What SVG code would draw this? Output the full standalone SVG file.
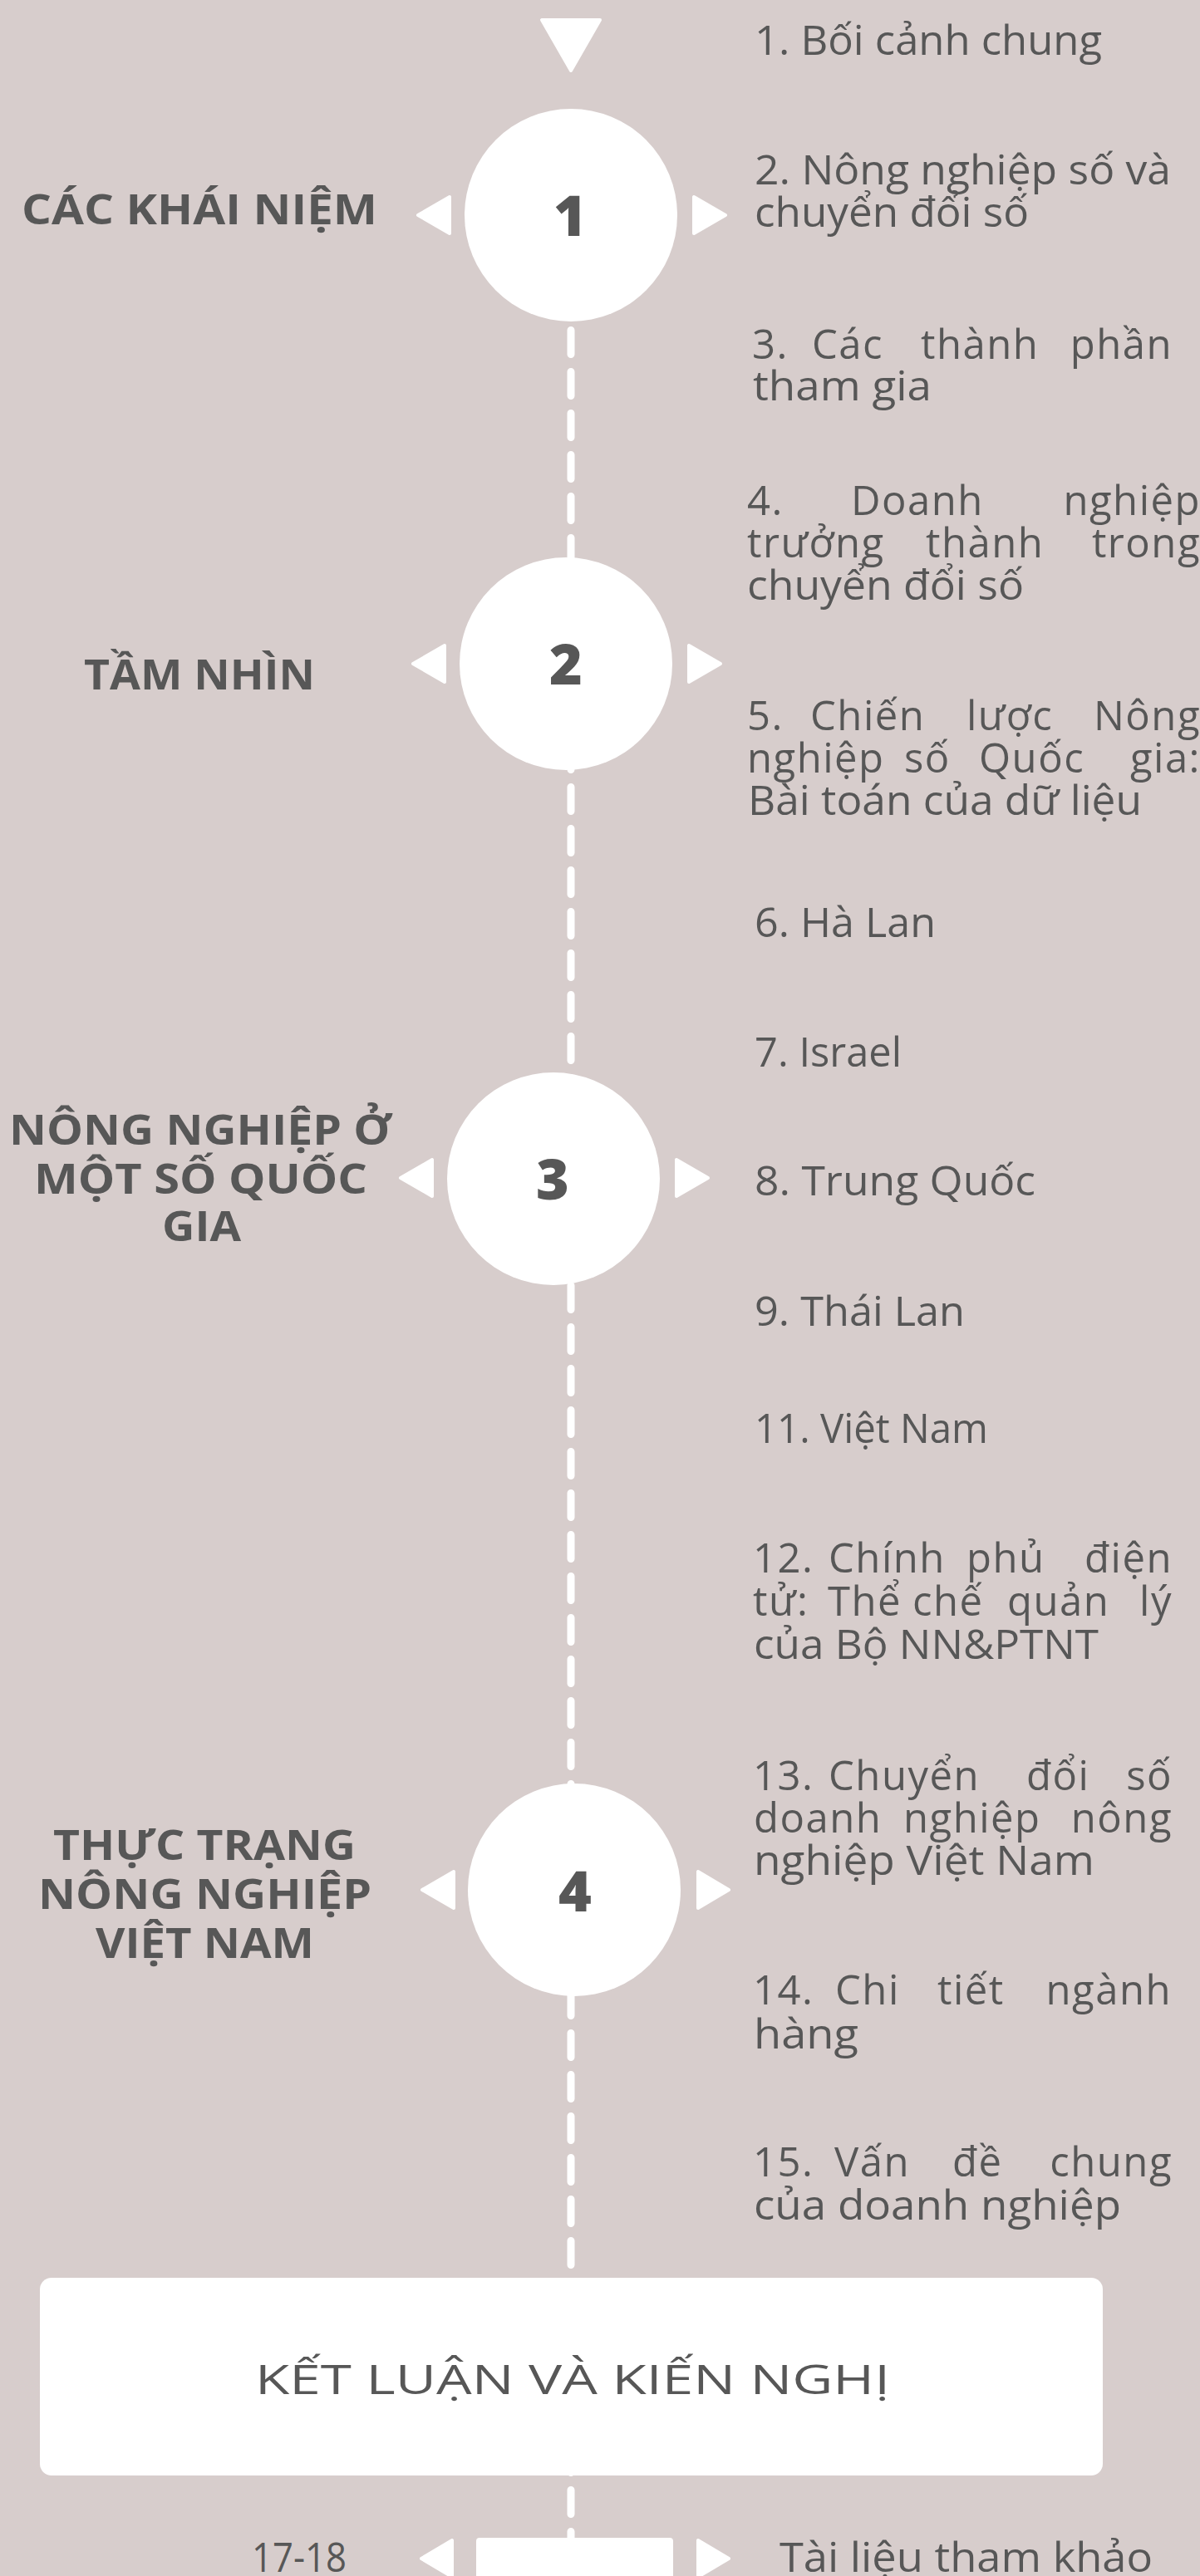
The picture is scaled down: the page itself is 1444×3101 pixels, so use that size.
<svg xmlns="http://www.w3.org/2000/svg" width="1444" height="3101" viewBox="0 0 1444 3101">
<style>
.bg{fill:#d7cdcc}
.w{fill:#ffffff}
.arr{fill:#ffffff;stroke:#ffffff;stroke-width:4;stroke-linejoin:round}
.body{font-family:"Open Sans","Liberation Sans",sans-serif;font-weight:400;font-size:49px;fill:#575757}
.just{letter-spacing:1.5px}
.head{font-family:"Open Sans","Liberation Sans",sans-serif;font-weight:700;font-size:50px;fill:#575757}
.num{font-family:"Open Sans","Liberation Sans",sans-serif;font-weight:800;font-size:68px;fill:#575757;text-anchor:middle}
.dash{fill:none;stroke:#ffffff;stroke-width:9;stroke-linecap:round;stroke-dasharray:29 21}
</style>
<rect class="bg" x="0" y="0" width="1444" height="3101"/>
<g id="connectors">
<path class="dash" d="M687 397.5 V3101"/>
</g>
<g id="start">
<polygon class="arr" points="652,24 722,24 687,85"/>
</g>
<g id="node-1">
<circle class="w" cx="687" cy="259" r="128"/>
<text class="num" x="686" y="284">1</text>
<polygon class="arr" points="541,237 541,281 503,259"/>
<polygon class="arr" points="835,237 835,281 873,259"/>
</g>
<g id="node-2">
<circle class="w" cx="681" cy="799" r="128"/>
<text class="num" x="681" y="824">2</text>
<polygon class="arr" points="535,777 535,821 497,799"/>
<polygon class="arr" points="829,777 829,821 867,799"/>
</g>
<g id="node-3">
<circle class="w" cx="666" cy="1419" r="128"/>
<text class="num" x="665" y="1444">3</text>
<polygon class="arr" points="520,1396 520,1440 482,1418"/>
<polygon class="arr" points="814,1396 814,1440 852,1418"/>
</g>
<g id="node-4">
<circle class="w" cx="691" cy="2275" r="128"/>
<text class="num" x="692" y="2301">4</text>
<polygon class="arr" points="546,2253 546,2297 508,2275"/>
<polygon class="arr" points="840,2253 840,2297 877,2275"/>
</g>
<g id="heading-1">
<text class="head" x="26" y="270" textLength="428" lengthAdjust="spacingAndGlyphs">CÁC KHÁI NIỆM</text>
</g>
<g id="heading-2">
<text class="head" x="101" y="830" textLength="278" lengthAdjust="spacingAndGlyphs">TẦM NHÌN</text>
</g>
<g id="heading-3">
<text class="head" x="11" y="1378" textLength="460" lengthAdjust="spacingAndGlyphs">NÔNG NGHIỆP Ở</text>
<text class="head" x="41" y="1437" textLength="401" lengthAdjust="spacingAndGlyphs">MỘT SỐ QUỐC</text>
<text class="head" x="195" y="1494" textLength="95" lengthAdjust="spacingAndGlyphs">GIA</text>
</g>
<g id="heading-4">
<text class="head" x="64" y="2239" textLength="364" lengthAdjust="spacingAndGlyphs">THỰC TRẠNG</text>
<text class="head" x="46" y="2298" textLength="401" lengthAdjust="spacingAndGlyphs">NÔNG NGHIỆP</text>
<text class="head" x="115" y="2357" textLength="263" lengthAdjust="spacingAndGlyphs">VIỆT NAM</text>
</g>
<g id="item-1">
<text class="body" x="908" y="66" textLength="418" lengthAdjust="spacingAndGlyphs">1. Bối cảnh chung</text>
</g>
<g id="item-2">
<text class="body" x="908" y="222" textLength="501" lengthAdjust="spacingAndGlyphs">2. Nông nghiệp số và</text>
<text class="body" x="908" y="273" textLength="330" lengthAdjust="spacingAndGlyphs">chuyển đổi số</text>
</g>
<g id="item-3">
<text class="body just" y="432"><tspan x="905">3.</tspan> <tspan x="977">Các</tspan> <tspan x="1108">thành</tspan> <tspan x="1411" text-anchor="end">phần</tspan></text>
<text class="body" x="906" y="482" textLength="215" lengthAdjust="spacingAndGlyphs">tham gia</text>
</g>
<g id="item-4">
<text class="body just" y="620"><tspan x="899">4.</tspan> <tspan x="1024">Doanh</tspan> <tspan x="1445" text-anchor="end">nghiệp</tspan></text>
<text class="body just" y="671"><tspan x="899">trưởng</tspan> <tspan x="1114">thành</tspan> <tspan x="1445" text-anchor="end">trong</tspan></text>
<text class="body" x="899" y="722" textLength="333" lengthAdjust="spacingAndGlyphs">chuyển đổi số</text>
</g>
<g id="item-5">
<text class="body just" y="879"><tspan x="899">5.</tspan> <tspan x="975">Chiến</tspan> <tspan x="1163">lược</tspan> <tspan x="1445" text-anchor="end">Nông</tspan></text>
<text class="body just" y="930"><tspan x="899">nghiệp</tspan> <tspan x="1088">số</tspan> <tspan x="1178">Quốc</tspan> <tspan x="1445" text-anchor="end">gia:</tspan></text>
<text class="body" x="900" y="981" textLength="474" lengthAdjust="spacingAndGlyphs">Bài toán của dữ liệu</text>
</g>
<g id="item-6">
<text class="body" x="908" y="1128" textLength="218" lengthAdjust="spacingAndGlyphs">6. Hà Lan</text>
</g>
<g id="item-7">
<text class="body" x="908" y="1284" textLength="177" lengthAdjust="spacingAndGlyphs">7. Israel</text>
</g>
<g id="item-8">
<text class="body" x="908" y="1439" textLength="338" lengthAdjust="spacingAndGlyphs">8. Trung Quốc</text>
</g>
<g id="item-9">
<text class="body" x="908" y="1596" textLength="253" lengthAdjust="spacingAndGlyphs">9. Thái Lan</text>
</g>
<g id="item-11">
<text class="body" x="908" y="1737" textLength="281" lengthAdjust="spacingAndGlyphs">11. Việt Nam</text>
</g>
<g id="item-12">
<text class="body just" y="1893"><tspan x="906">12.</tspan> <tspan x="997">Chính</tspan> <tspan x="1163">phủ</tspan> <tspan x="1411" text-anchor="end">điện</tspan></text>
<text class="body just" y="1945"><tspan x="906">tử:</tspan> <tspan x="996">Thể</tspan> <tspan x="1098">chế</tspan> <tspan x="1212">quản</tspan> <tspan x="1411" text-anchor="end">lý</tspan></text>
<text class="body" x="907" y="1997" textLength="415" lengthAdjust="spacingAndGlyphs">của Bộ NN&amp;PTNT</text>
</g>
<g id="item-13">
<text class="body just" y="2155"><tspan x="906">13.</tspan> <tspan x="997">Chuyển</tspan> <tspan x="1235">đổi</tspan> <tspan x="1411" text-anchor="end">số</tspan></text>
<text class="body just" y="2206"><tspan x="907">doanh</tspan> <tspan x="1087">nghiệp</tspan> <tspan x="1411" text-anchor="end">nông</tspan></text>
<text class="body" x="907" y="2257" textLength="410" lengthAdjust="spacingAndGlyphs">nghiệp Việt Nam</text>
</g>
<g id="item-14">
<text class="body just" y="2413"><tspan x="906">14.</tspan> <tspan x="1005">Chi</tspan> <tspan x="1128">tiết</tspan> <tspan x="1410" text-anchor="end">ngành</tspan></text>
<text class="body" x="907" y="2466" textLength="126" lengthAdjust="spacingAndGlyphs">hàng</text>
</g>
<g id="item-15">
<text class="body just" y="2620"><tspan x="906">15.</tspan> <tspan x="1004">Vấn</tspan> <tspan x="1146">đề</tspan> <tspan x="1411" text-anchor="end">chung</tspan></text>
<text class="body" x="907" y="2672" textLength="442" lengthAdjust="spacingAndGlyphs">của doanh nghiệp</text>
</g>
<g id="conclusion">
<rect class="w" x="48" y="2742" width="1279" height="238" rx="14"/>
<text class="body" x="307" y="2882" textLength="764" lengthAdjust="spacingAndGlyphs">KẾT LUẬN VÀ KIẾN NGHỊ</text>
</g>
<g id="references">
<rect class="w" x="573" y="3055" width="237" height="60" rx="4"/>
<polygon class="arr" points="544,3058 544,3102 507,3080"/>
<polygon class="arr" points="840,3058 840,3102 877,3080"/>
<text class="body" x="303" y="3096" textLength="114" lengthAdjust="spacingAndGlyphs">17-18</text>
<text class="body" x="938" y="3096" textLength="449" lengthAdjust="spacingAndGlyphs">Tài liệu tham khảo</text>
</g>
</svg>
